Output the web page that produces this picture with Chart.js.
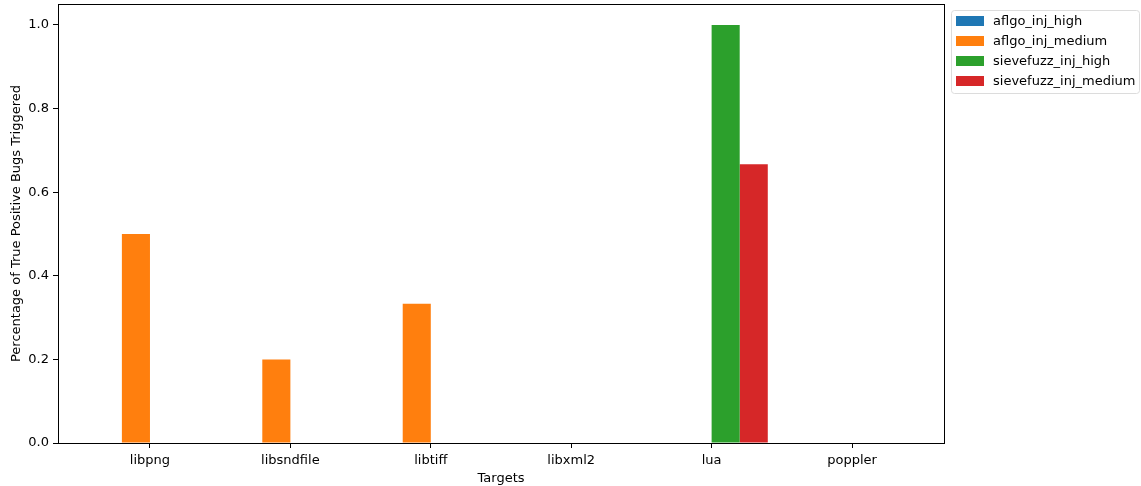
<!DOCTYPE html>
<html>
<head>
<meta charset="utf-8">
<script src="https://cdn.jsdelivr.net/npm/chart.js@4.4.1/dist/chart.umd.min.js"></script>
<style>
  html, body { margin: 0; padding: 0; background: #fff; }
  #wrap { width: 1141px; height: 486px; }
</style>
</head>
<body>
<div id="wrap"><canvas id="chart"></canvas></div>
<script>
const targets = ["libpng", "libsndfile", "libtiff", "libxml2", "lua", "poppler"];
const aflgoHigh = [0, 0, 0, 0, 0, 0];
const aflgoMedium = [0.5, 0.2, 0.333, 0, 0, 0];
const sievefuzzHigh = [0, 0, 0, 0, 1.0, 0];
const sievefuzzMedium = [0, 0, 0, 0, 0.667, 0];
const yTicks = [0, 0.2, 0.4, 0.6, 0.8, 1.0];

const FONT = "DejaVu Sans";

function pts(vals) {
  return vals.map((v, i) => ({ x: i, y: v }));
}

const series = [
  { label: "aflgo_inj_high", color: "#1f77b4", values: aflgoHigh },
  { label: "aflgo_inj_medium", color: "#ff7f0e", values: aflgoMedium },
  { label: "sievefuzz_inj_high", color: "#2ca02c", values: sievefuzzHigh },
  { label: "sievefuzz_inj_medium", color: "#d62728", values: sievefuzzMedium }
];

// frame around the axes + legend box on the right
const framePlugin = {
  id: "frame",
  afterDraw(chart) {
    const ctx = chart.ctx;
    const a = chart.chartArea;
    ctx.save();
    ctx.strokeStyle = "#000";
    ctx.lineWidth = 1;
    ctx.strokeRect(Math.round(a.left) + 0.5, Math.round(a.top) + 0.5,
      Math.round(a.right - a.left), Math.round(a.bottom - a.top));

    // legend
    const lx = 951, ly = 10, lw = 188, lh = 83;
    ctx.strokeStyle = "#dcdcdc";
    ctx.fillStyle = "rgba(255,255,255,0.8)";
    ctx.beginPath();
    ctx.roundRect(lx + 0.5, ly + 0.5, lw, lh, 3);
    ctx.fill();
    ctx.stroke();
    ctx.font = "13px '" + FONT + "'";
    ctx.textBaseline = "middle";
    series.forEach((s, i) => {
      const y = 21 + i * 20;
      ctx.fillStyle = s.color;
      ctx.fillRect(956, y - 5, 28, 10);
      ctx.fillStyle = "#000";
      ctx.fillText(s.label, 993, y + 1);
    });
    ctx.restore();
  }
};

new Chart(document.getElementById("chart"), {
  type: "bar",
  data: {
    datasets: series.map(s => ({
      label: s.label,
      data: pts(s.values),
      backgroundColor: s.color,
      borderWidth: 0,
      categoryPercentage: 0.8,
      barPercentage: 1.0
    }))
  },
  options: {
    responsive: true,
    maintainAspectRatio: false,
    animation: false,
    layout: { padding: { top: 4, right: 197, left: 0, bottom: 0 } },
    plugins: {
      legend: { display: false },
      tooltip: { enabled: false }
    },
    scales: {
      x: {
        type: "linear",
        min: -0.655,
        max: 5.655,
        offset: false,
        afterBuildTicks: (scale) => {
          scale.ticks = targets.map((t, i) => ({ value: i }));
        },
        afterFit: (scale) => {
          scale.height = 43;
          scale.paddingLeft = 0;
          scale.paddingRight = 0;
        },
        ticks: {
          callback: (v) => targets[v],
          color: "#000",
          font: { family: FONT, size: 13 },
          padding: 5,
          maxRotation: 0,
          autoSkip: false
        },
        grid: { offset: false, drawOnChartArea: false, tickLength: 5, tickColor: "#000", tickWidth: 1 },
        border: { display: true, color: "#000", width: 1 },
        title: {
          display: true,
          text: "Targets",
          color: "#000",
          font: { family: FONT, size: 13 },
          padding: { top: 2, bottom: 0 }
        }
      },
      y: {
        min: 0,
        max: 1.05,
        afterBuildTicks: (scale) => {
          scale.ticks = yTicks.map(v => ({ value: v }));
        },
        afterFit: (scale) => {
          scale.width = 58;
          scale.paddingTop = 0;
          scale.paddingBottom = 0;
        },
        ticks: {
          callback: (v) => Number(v).toFixed(1),
          color: "#000",
          font: { family: FONT, size: 13 },
          padding: 4
        },
        grid: { drawOnChartArea: false, tickLength: 5, tickColor: "#000", tickWidth: 1 },
        border: { display: true, color: "#000", width: 1 },
        title: {
          display: true,
          text: "Percentage of True Positive Bugs Triggered",
          color: "#000",
          font: { family: FONT, size: 13 },
          padding: { top: 9, bottom: 4 }
        }
      }
    }
  },
  plugins: [framePlugin]
});
</script>
</body>
</html>
